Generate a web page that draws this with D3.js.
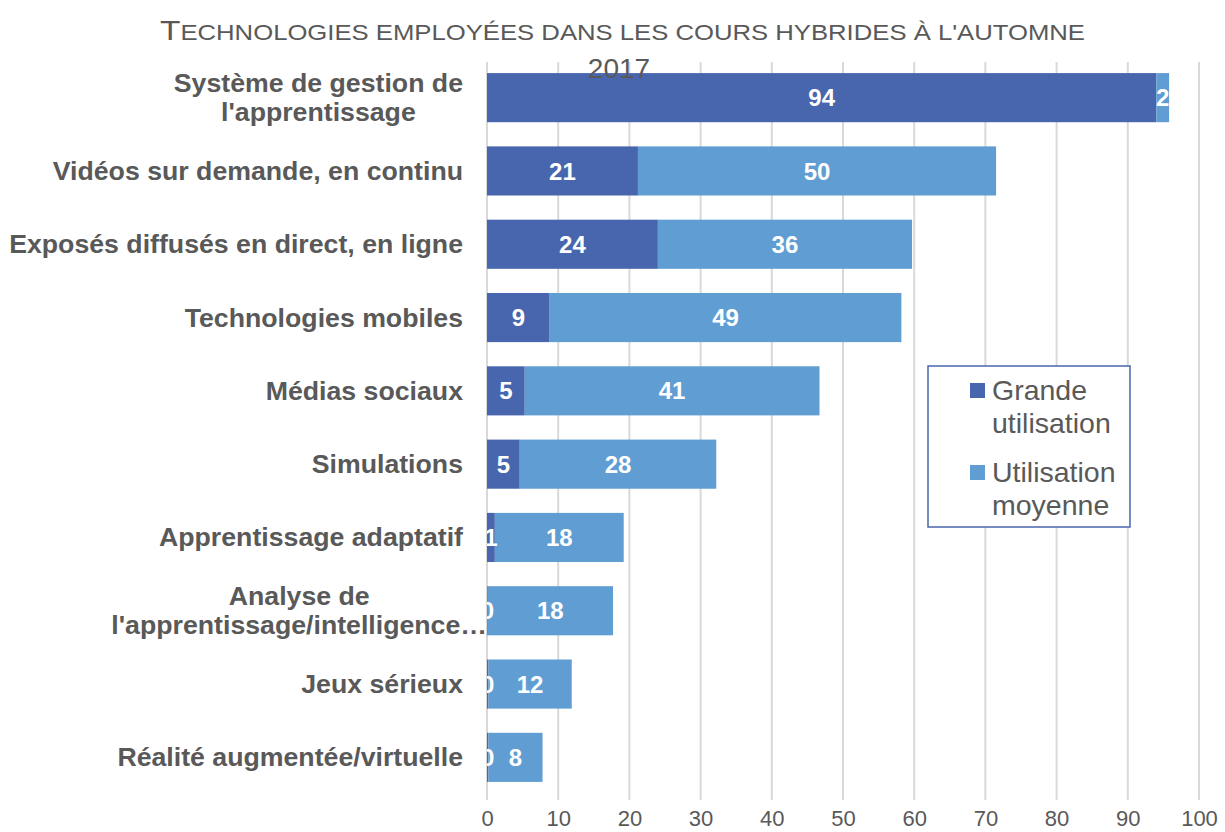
<!DOCTYPE html>
<html>
<head>
<meta charset="utf-8">
<script src="https://cdn.jsdelivr.net/npm/d3@7"></script>
<style>
    body { margin: 0; background: #fff; }
    text { font-family: 'Liberation Sans', Arial, sans-serif; }
</style>
</head>
<body>
<div id="chart"></div>
<script>
const width = 1225;
const height = 832;

const categories = [
    ['Système de gestion de', "l'apprentissage"],
    ['Vidéos sur demande, en continu'],
    ['Exposés diffusés en direct, en ligne'],
    ['Technologies mobiles'],
    ['Médias sociaux'],
    ['Simulations'],
    ['Apprentissage adaptatif'],
    ['Analyse de', "l'apprentissage/intelligence…"],
    ['Jeux sérieux'],
    ['Réalité augmentée/virtuelle']
];
const grande = [94, 21.2, 24, 8.8, 5.3, 4.6, 1.1, 0.1, 0.2, 0.2];
const moyenne = [1.8, 50.3, 35.7, 49.4, 41.4, 27.6, 18.1, 17.6, 11.7, 7.6];
const seriesNames = ['Grande utilisation', 'Utilisation moyenne'];
const colors = ['#4866ad', '#5f9dd2'];
const xTicks = [0, 10, 20, 30, 40, 50, 60, 70, 80, 90, 100];

const svg = d3.select('#chart').append('svg')
    .attr('width', width)
    .attr('height', height);

const x = d3.scaleLinear().domain([0, 100]).range([487, 1199]);
const y = d3.scaleBand()
    .domain(d3.range(categories.length))
    .range([61, 794])
    .paddingInner(0.33)
    .paddingOuter(0.165);

// gridlines
svg.append('g')
    .selectAll('line')
    .data(xTicks)
    .enter().append('line')
    .attr('x1', d => x(d))
    .attr('x2', d => x(d))
    .attr('y1', 62)
    .attr('y2', 800)
    .attr('stroke', '#d9d9d9')
    .attr('stroke-width', 2);

// x axis labels
const xAxis = svg.append('g')
    .attr('transform', 'translate(0, 808)')
    .call(d3.axisBottom(x).tickValues(xTicks).tickSize(0).tickPadding(0));
xAxis.select('.domain').remove();
xAxis.selectAll('text')
    .attr('font-size', '22px')
    .attr('fill', '#595959')
    .attr('dy', '0.71em')
    .attr('y', 2);

// stacked bars
const rows = categories.map((c, i) => [grande[i], moyenne[i]]);
const stacked = d3.stack().keys([0, 1])(rows);

svg.append('defs').append('clipPath')
    .attr('id', 'plot-clip')
    .append('rect')
    .attr('x', x(0))
    .attr('y', 0)
    .attr('width', x(100) - x(0) + 20)
    .attr('height', height);

const bars = svg.append('g');
const labels = svg.append('g').attr('clip-path', 'url(#plot-clip)');

stacked.forEach((layer, k) => {
    bars.append('g')
        .selectAll('rect')
        .data(layer)
        .enter().append('rect')
        .attr('x', d => x(d[0]))
        .attr('y', (d, i) => y(i))
        .attr('width', d => x(d[1]) - x(d[0]))
        .attr('height', y.bandwidth())
        .attr('fill', colors[k]);

    labels.append('g')
        .selectAll('text')
        .data(layer)
        .enter().append('text')
        .attr('x', d => (x(d[0]) + x(d[1])) / 2)
        .attr('y', (d, i) => y(i) + y.bandwidth() / 2)
        .attr('dy', '0.36em')
        .attr('text-anchor', 'middle')
        .attr('font-size', '24px')
        .attr('font-weight', 'bold')
        .attr('fill', '#fff')
        .text(d => Math.round(d[1] - d[0]));
});

// category labels
const catG = svg.append('g');
categories.forEach((lines, i) => {
    const cy = y(i) + y.bandwidth() / 2;
    const lineH = 29;
    const t = catG.append('text')
        .attr('font-size', '26.7px')
        .attr('font-weight', 'bold')
        .attr('fill', '#595959');
    lines.forEach((ln, j) => {
        t.append('tspan')
            .attr('dy', j === 0 ? 0 : lineH)
            .text(ln);
    });
    // widest line sets the block's right edge
    const widths = [];
    t.selectAll('tspan').each(function () { widths.push(this.getComputedTextLength()); });
    const maxW = d3.max(widths);
    const overflow = lines[lines.length - 1].endsWith('…');
    const right = overflow ? x(0) : 463;
    t.attr('text-anchor', 'middle');
    t.selectAll('tspan').attr('x', right - maxW / 2);
    t.attr('y', cy - (lines.length - 1) * lineH / 2 + 9);
});

// title (small caps look)
const titleWords = "Technologies employées dans les cours hybrides à l'automne";
const title = svg.append('text')
    .attr('x', 160)
    .attr('y', 40)
    .attr('fill', '#595959')
    .attr('textLength', 925)
    .attr('lengthAdjust', 'spacingAndGlyphs');
title.append('tspan').attr('font-size', '28px').text(titleWords[0]);
title.append('tspan').attr('font-size', '21.5px').text(titleWords.slice(1).toUpperCase());
svg.append('text')
    .attr('x', 619)
    .attr('y', 78)
    .attr('text-anchor', 'middle')
    .attr('font-size', '28px')
    .attr('fill', '#595959')
    .text('2017');

// legend
const legend = svg.append('g').attr('transform', 'translate(928, 366)');
legend.append('rect')
    .attr('width', 202)
    .attr('height', 161)
    .attr('fill', '#fff')
    .attr('stroke', '#4866ad')
    .attr('stroke-width', 1.5);
seriesNames.forEach((name, k) => {
    const g = legend.append('g').attr('transform', `translate(0, ${k * 82})`);
    g.append('rect')
        .attr('x', 42)
        .attr('y', 17)
        .attr('width', 15)
        .attr('height', 15)
        .attr('fill', colors[k]);
    g.selectAll('text')
        .data(name.split(' '))
        .enter().append('text')
        .attr('x', 64)
        .attr('y', (d, j) => 34 + j * 33)
        .attr('font-size', '28.5px')
        .attr('fill', '#595959')
        .text(d => d);
});
</script>
</body>
</html>
